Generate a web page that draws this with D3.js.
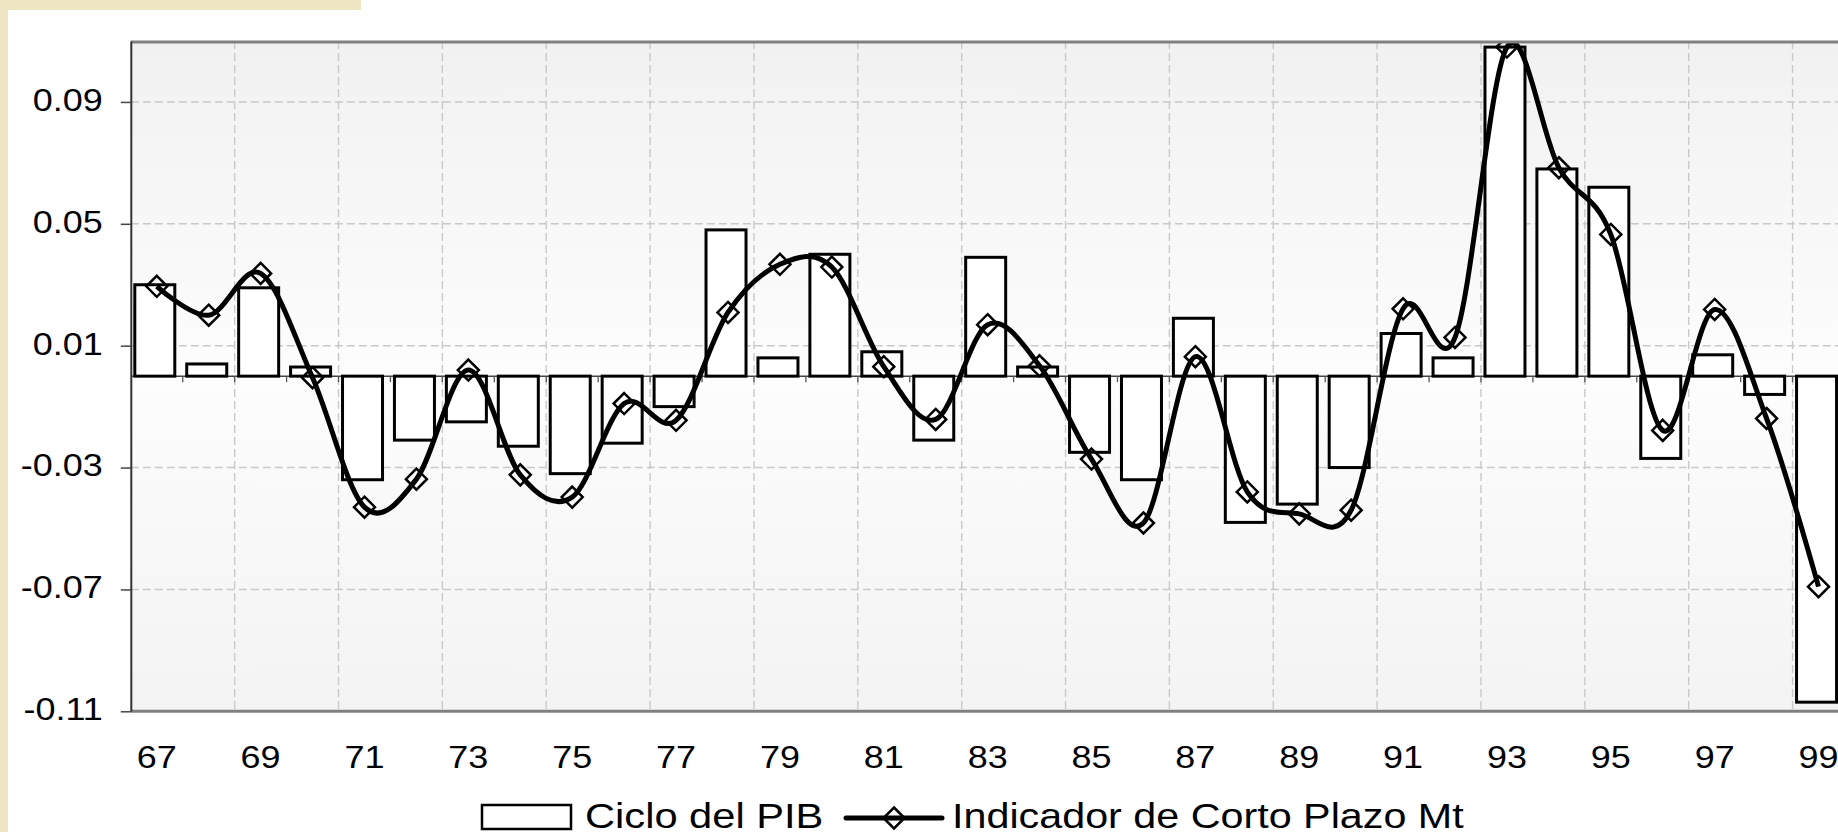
<!DOCTYPE html>
<html>
<head>
<meta charset="utf-8">
<script src="https://cdn.jsdelivr.net/npm/d3@7"></script>
<style>
  html, body { margin: 0; padding: 0; background: #fff; }
  svg { display: block; font-family: "Liberation Sans", Arial, sans-serif; }
</style>
</head>
<body>
<svg id="chart" width="1838" height="832"></svg>
<script>
// data
const years = ['67','68','69','70','71','72','73','74','75','76','77','78','79','80','81','82',
  '83','84','85','86','87','88','89','90','91','92','93','94','95','96','97','98','99'];
const cicloPib = [0.030, 0.004, 0.029, 0.003, -0.034, -0.021, -0.015, -0.023, -0.032, -0.022, -0.010,
  0.048, 0.006, 0.040, 0.008, -0.021, 0.039, 0.003, -0.025, -0.034, 0.019, -0.048, -0.042, -0.030,
  0.014, 0.006, 0.108, 0.068, 0.062, -0.027, 0.007, -0.006, -0.107];
const indicadorMt = [0.0295, 0.020, 0.0337, -0.0005, -0.043, -0.0338, 0.002, -0.0324, -0.0397, -0.009,
  -0.0145, 0.0209, 0.0367, 0.0358, 0.0031, -0.0142, 0.0169, 0.0034, -0.0272, -0.0482, 0.0064, -0.038,
  -0.0452, -0.044, 0.0221, 0.0127, 0.108, 0.0684, 0.0465, -0.0178, 0.0219, -0.0139, -0.0691];
const yTickValues = [-0.11, -0.07, -0.03, 0.01, 0.05, 0.09];
const xTickLabels = ['67','69','71','73','75','77','79','81','83','85','87','89','91','93','95','97','99'];
const legendLabels = ['Ciclo del PIB', 'Indicador de Corto Plazo Mt'];

const width = 1838;
const height = 832;
const plotLeft = 130.8, plotTop = 41, plotBottom = 711.3;
const step = 51.93;
const plotRight = plotLeft + step * years.length;
const stretch = 1.16; // text in the picture is wider than normal

const svg = d3.select('#chart');

// page background: beige paper strip top-left, white panel
svg.append('rect').attr('width', width).attr('height', height).attr('fill', '#fff');
svg.append('path')
    .attr('d', 'M0,0 H361 V10 H8 V832 H0 Z')
    .attr('fill', '#efe7c4');

const x = d3.scaleBand().domain(years).range([plotLeft, plotRight]).padding(0);
const y = d3.scaleLinear().domain([-0.11, 0.11]).range([plotBottom, plotTop]);

// plot area gradient
const defs = svg.append('defs');
const grad = defs.append('linearGradient').attr('id', 'plotBg')
    .attr('x1', 0).attr('y1', 0).attr('x2', 0).attr('y2', 1);
grad.append('stop').attr('offset', '0%').attr('stop-color', '#f1f1f1');
grad.append('stop').attr('offset', '50%').attr('stop-color', '#fdfdfd');
grad.append('stop').attr('offset', '100%').attr('stop-color', '#f3f3f3');

defs.append('clipPath').attr('id', 'plotClip')
    .append('rect')
    .attr('x', plotLeft).attr('y', plotTop)
    .attr('width', plotRight - plotLeft).attr('height', plotBottom - plotTop);

svg.append('rect')
    .attr('x', plotLeft).attr('y', plotTop)
    .attr('width', plotRight - plotLeft).attr('height', plotBottom - plotTop)
    .attr('fill', 'url(#plotBg)');

// gridlines
const grid = svg.append('g').attr('class', 'grid')
    .attr('stroke', '#c9c9c9').attr('stroke-width', 1.4).attr('stroke-dasharray', '8,4');
grid.selectAll('line.h')
    .data(yTickValues.filter(v => v > -0.11))
    .enter().append('line').attr('class', 'h')
    .attr('x1', plotLeft).attr('x2', plotRight)
    .attr('y1', d => y(d)).attr('y2', d => y(d));
grid.selectAll('line.v')
    .data(years.filter((d, i) => i > 0 && i % 2 === 0))
    .enter().append('line').attr('class', 'v')
    .attr('x1', d => x(d)).attr('x2', d => x(d))
    .attr('y1', plotTop).attr('y2', plotBottom);

const plot = svg.append('g').attr('clip-path', 'url(#plotClip)');

// zero axis with small ticks
plot.append('line')
    .attr('x1', plotLeft).attr('x2', plotRight)
    .attr('y1', y(0)).attr('y2', y(0))
    .attr('stroke', '#444').attr('stroke-width', 1.5);
plot.selectAll('line.zt')
    .data(years.slice(1))
    .enter().append('line').attr('class', 'zt')
    .attr('x1', d => x(d)).attr('x2', d => x(d))
    .attr('y1', y(0)).attr('y2', y(0) + 6)
    .attr('stroke', '#555').attr('stroke-width', 1.3);

// bars
plot.selectAll('rect.bar')
    .data(years)
    .enter().append('rect').attr('class', 'bar')
    .attr('x', d => x(d) + 4)
    .attr('width', 40)
    .attr('y', (d, i) => Math.min(y(cicloPib[i]), y(0)))
    .attr('height', (d, i) => Math.abs(y(cicloPib[i]) - y(0)))
    .attr('fill', '#fff')
    .attr('stroke', '#000')
    .attr('stroke-width', 3);

// smoothed line
const lineGen = d3.line()
    .x((d, i) => x(years[i]) + x.bandwidth() / 2)
    .y(d => y(d))
    .curve(d3.curveCardinal.tension(0));

plot.append('path')
    .datum(indicadorMt)
    .attr('d', lineGen)
    .attr('fill', 'none')
    .attr('stroke', '#000')
    .attr('stroke-width', 5)
    .attr('stroke-linejoin', 'round');

const diamond = r => `M0,${-r}L${r},0L0,${r}L${-r},0Z`;
plot.selectAll('path.mark')
    .data(indicadorMt)
    .enter().append('path').attr('class', 'mark')
    .attr('d', diamond(10.5))
    .attr('transform', (d, i) => `translate(${x(years[i]) + x.bandwidth() / 2},${y(d)})`)
    .attr('fill', 'none')
    .attr('stroke', '#000')
    .attr('stroke-width', 2.5);

// plot frame
svg.append('line')
    .attr('x1', plotLeft).attr('x2', width).attr('y1', plotTop + 1).attr('y2', plotTop + 1)
    .attr('stroke', '#808080').attr('stroke-width', 3);
svg.append('line')
    .attr('x1', plotLeft).attr('x2', width).attr('y1', plotBottom).attr('y2', plotBottom)
    .attr('stroke', '#808080').attr('stroke-width', 3);

// y axis
const yAxis = svg.append('g')
    .attr('transform', `translate(${plotLeft},0)`)
    .call(d3.axisLeft(y).tickValues(yTickValues).tickSize(10).tickSizeOuter(0)
        .tickFormat(d => d.toFixed(2)));
yAxis.select('.domain').attr('stroke', '#333').attr('stroke-width', 2);
yAxis.selectAll('.tick line').attr('stroke', '#444').attr('stroke-width', 1.5);
yAxis.selectAll('.tick text')
    .attr('x', null).attr('dy', null)
    .attr('transform', `translate(-28,8.4) scale(${stretch},1)`)
    .attr('font-size', 31)
    .attr('font-family', '"Liberation Sans", Arial, sans-serif')
    .attr('fill', '#000');

// x axis labels
const xAxis = svg.append('g')
    .attr('transform', `translate(0,${plotBottom})`)
    .call(d3.axisBottom(x).tickValues(xTickLabels).tickSize(0));
xAxis.select('.domain').remove();
xAxis.selectAll('.tick text')
    .attr('y', null).attr('dy', null)
    .attr('transform', `translate(0,57) scale(${stretch},1)`)
    .attr('font-size', 31)
    .attr('font-family', '"Liberation Sans", Arial, sans-serif')
    .attr('fill', '#000');

// legend
const legend = svg.append('g').attr('class', 'legend');
legend.append('rect')
    .attr('x', 482).attr('y', 805).attr('width', 89).attr('height', 24)
    .attr('fill', '#fff').attr('stroke', '#000').attr('stroke-width', 2.5);
legend.append('text')
    .attr('transform', `translate(585,827.5) scale(1.19,1)`)
    .attr('font-size', 35)
    .text(legendLabels[0]);
legend.append('line')
    .attr('x1', 846).attr('x2', 942).attr('y1', 818).attr('y2', 818)
    .attr('stroke', '#000').attr('stroke-width', 5).attr('stroke-linecap', 'round');
legend.append('path')
    .attr('d', diamond(10.5))
    .attr('transform', 'translate(894,818)')
    .attr('fill', 'none').attr('stroke', '#000').attr('stroke-width', 2.5);
legend.append('text')
    .attr('transform', `translate(952,827.5) scale(1.18,1)`)
    .attr('font-size', 35)
    .text(legendLabels[1]);
</script>
</body>
</html>
